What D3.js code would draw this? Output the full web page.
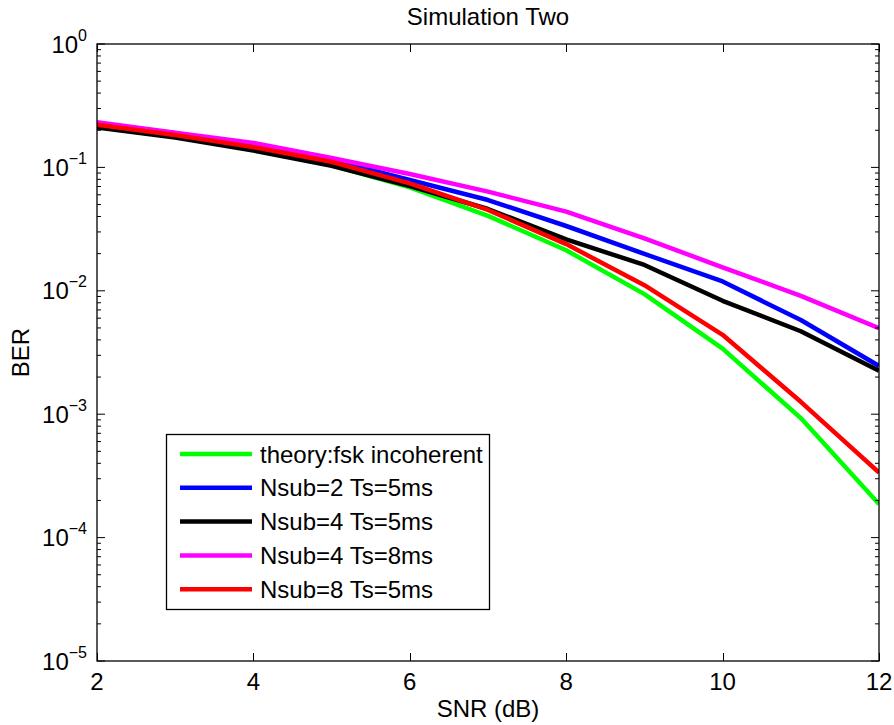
<!DOCTYPE html>
<html>
<head>
<meta charset="utf-8">
<script src="https://cdn.jsdelivr.net/npm/d3@7"></script>
<style>
  html, body { margin: 0; padding: 0; background: #fff; }
  svg { display: block; font-family: "Liberation Sans", Arial, Helvetica, sans-serif; }
</style>
</head>
<body>
<svg id="chart" width="894" height="725"></svg>
<script>
// SNR grid (dB)
const snr = [2, 3, 4, 5, 6, 7, 8, 9, 10, 11, 12];

// BER curves
const theoryFsk = [0.225, 0.185, 0.142, 0.104, 0.069, 0.0405, 0.0213, 0.0094, 0.0034, 0.00093, 0.000187];
const nsub2Ts5  = [0.228, 0.189, 0.152, 0.115, 0.079, 0.0544, 0.0335, 0.0199, 0.0119, 0.0058, 0.00246];
const nsub4Ts5  = [0.211, 0.175, 0.137, 0.103, 0.0707, 0.046, 0.0261, 0.0162, 0.0083, 0.0047, 0.00225];
const nsub4Ts8  = [0.232, 0.191, 0.158, 0.119, 0.0885, 0.0636, 0.0438, 0.0266, 0.0155, 0.0091, 0.00497];
const nsub8Ts5  = [0.222, 0.183, 0.146, 0.111, 0.0743, 0.0452, 0.0239, 0.0111, 0.0044, 0.00126, 0.000336];

const seriesNames  = ["theory:fsk incoherent", "Nsub=2 Ts=5ms", "Nsub=4 Ts=5ms", "Nsub=4 Ts=8ms", "Nsub=8 Ts=5ms"];
const seriesValues = [theoryFsk, nsub2Ts5, nsub4Ts5, nsub4Ts8, nsub8Ts5];
const seriesColors = ["#00ff00", "#0000ff", "#000000", "#ff00ff", "#ff0000"];

const xTicks = [2, 4, 6, 8, 10, 12];
const yExponents = [0, -1, -2, -3, -4, -5];

const titleText = "Simulation Two";
const xLabel = "SNR (dB)";
const yLabel = "BER";

(function draw() {
  // plot box
  const pL = 97, pR = 879, pT = 44, pB = 661;
  const fontSize = 24;

  const svg = d3.select("#chart");

  const x = d3.scaleLinear().domain([2, 12]).range([pL, pR]);
  const y = d3.scaleLog().domain([1e-5, 1]).range([pB, pT]);

  // clip for the data lines
  svg.append("defs").append("clipPath").attr("id", "plotClip")
    .append("rect").attr("x", pL).attr("y", pT).attr("width", pR - pL).attr("height", pB - pT);

  // curves
  const line = d3.line().x((d, i) => x(snr[i])).y(d => y(d));
  const curves = svg.append("g").attr("clip-path", "url(#plotClip)");
  seriesValues.forEach((vals, k) => {
    curves.append("path")
      .attr("d", line(vals))
      .attr("fill", "none")
      .attr("stroke", seriesColors[k])
      .attr("stroke-width", 4.5)
      .attr("stroke-linejoin", "round");
  });

  // axes box with inward ticks
  const axes = svg.append("g");
  const majorLen = 8, minorLen = 4;

  // x ticks on bottom and top
  xTicks.forEach(t => {
    const px = Math.round(x(t)) + 0.5;
    axes.append("line").attr("x1", px).attr("x2", px).attr("y1", pB).attr("y2", pB - majorLen)
      .attr("stroke", "#000").attr("stroke-width", 1);
    axes.append("line").attr("x1", px).attr("x2", px).attr("y1", pT).attr("y2", pT + majorLen)
      .attr("stroke", "#000").attr("stroke-width", 1);
    svg.append("text").attr("x", x(t)).attr("y", 690)
      .attr("text-anchor", "middle").attr("font-size", fontSize).text(t);
  });

  // y ticks (log, with minor ticks) on left and right
  yExponents.forEach(e => {
    const v = Math.pow(10, e);
    const py = y(v);
    [[pL, 1], [pR, -1]].forEach(([ax, dir]) => {
      axes.append("line").attr("x1", ax).attr("x2", ax + dir * majorLen).attr("y1", py).attr("y2", py)
        .attr("stroke", "#000").attr("stroke-width", 1);
      if (e > -5) {
        for (let m = 2; m <= 9; m++) {
          const my = y(v / 10 * m);
          axes.append("line").attr("x1", ax).attr("x2", ax + dir * minorLen).attr("y1", my).attr("y2", my)
            .attr("stroke", "#000").attr("stroke-width", 1);
        }
      }
    });
    const lbl = svg.append("text").attr("x", pL - 10).attr("y", py + 8.5)
      .attr("text-anchor", "end").attr("font-size", fontSize);
    lbl.append("tspan").text("10");
    lbl.append("tspan").attr("dy", -12).attr("font-size", 16)
      .text(e === 0 ? "0" : "\u2212" + Math.abs(e));
  });

  axes.append("rect").attr("x", pL).attr("y", pT).attr("width", pR - pL).attr("height", pB - pT)
    .attr("fill", "none").attr("stroke", "#000").attr("stroke-width", 1.3);

  // title and axis labels
  svg.append("text").attr("x", (pL + pR) / 2).attr("y", 25)
    .attr("text-anchor", "middle").attr("font-size", fontSize).text(titleText);
  svg.append("text").attr("x", (pL + pR) / 2).attr("y", 717)
    .attr("text-anchor", "middle").attr("font-size", fontSize).text(xLabel);
  svg.append("text").attr("transform", `translate(29,${(pT + pB) / 2}) rotate(-90)`)
    .attr("text-anchor", "middle").attr("font-size", fontSize).text(yLabel);

  // legend
  const lg = svg.append("g");
  lg.append("rect").attr("x", 166.5).attr("y", 434.5).attr("width", 323).attr("height", 175)
    .attr("fill", "#fff").attr("stroke", "#000").attr("stroke-width", 1.3);
  seriesNames.forEach((name, k) => {
    const ry = 454 + k * 33.8;
    lg.append("line").attr("x1", 180).attr("x2", 252).attr("y1", ry).attr("y2", ry)
      .attr("stroke", seriesColors[k]).attr("stroke-width", 4.5);
    lg.append("text").attr("x", 260).attr("y", ry + 8.5).attr("font-size", fontSize).text(name);
  });
})();
</script>
</body>
</html>
